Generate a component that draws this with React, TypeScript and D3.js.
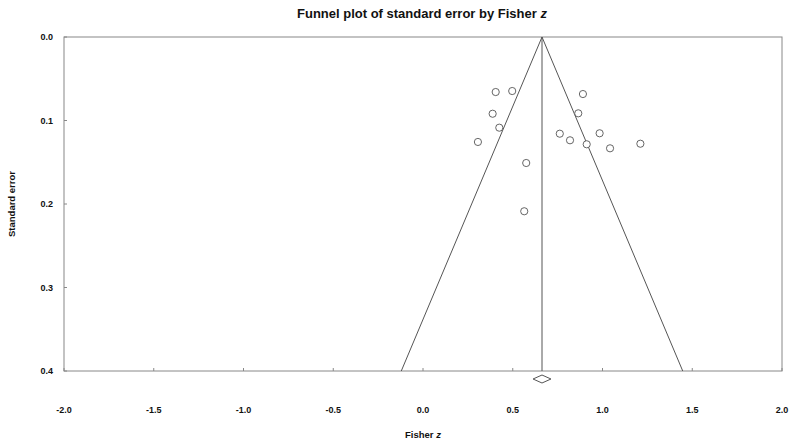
import React from "react";
import * as d3 from "d3";

const fisherZ = [0.405, 0.497, 0.891, 0.388, 0.865, 0.425, 0.306, 0.762, 0.819, 0.984, 0.912, 1.042, 1.211, 0.575, 0.564];
const stdErr = [0.0659, 0.0647, 0.0683, 0.0919, 0.0914, 0.1086, 0.1257, 0.1158, 0.1237, 0.1153, 0.1285, 0.1333, 0.1278, 0.1509, 0.2087];
const meanZ = 0.663;
const meanCI = [0.613, 0.713];
const xTicks = [-2.0, -1.5, -1.0, -0.5, 0.0, 0.5, 1.0, 1.5, 2.0];
const yTicks = [0.0, 0.1, 0.2, 0.3, 0.4];

export default function App() {
  const W = 793, H = 441;
  const L = 64, R = 782, T = 37, B = 371;
  const x = d3.scaleLinear().domain([-2, 2]).range([L, R]);
  const y = d3.scaleLinear().domain([0, 0.4]).range([T, B]);
  const seMax = 0.4;
  const funnel = d3.line<[number, number]>().x(d => x(d[0])).y(d => y(d[1]));
  const leftLine: [number, number][] = [[meanZ, 0], [meanZ - 1.96 * seMax, seMax]];
  const rightLine: [number, number][] = [[meanZ, 0], [meanZ + 1.96 * seMax, seMax]];
  const dy = 379;
  const diamond = `M${x(meanCI[0])},${dy} L${x(meanZ)},${dy - 4} L${x(meanCI[1])},${dy} L${x(meanZ)},${dy + 4} Z`;
  const font = "'Liberation Sans', Arial, sans-serif";
  const lineColor = "#555";
  return (
    <svg width={W} height={H} style={{ position: "absolute", left: 0, top: 0, background: "#fff" }} fontFamily={font}>
      <rect x={0} y={0} width={W} height={H} fill="#fff" />
      <text x={422} y={18} textAnchor="middle" fontSize={13} fontWeight="bold" fill="#111">
        Funnel plot of standard error by Fisher <tspan fontStyle="italic">z</tspan>
      </text>
      <rect x={L} y={T} width={R - L} height={B - T} fill="none" stroke="#888" strokeWidth={1} />
      {yTicks.map(t => (
        <g key={"y" + t}>
          <line x1={L} x2={L + 3} y1={y(t)} y2={y(t)} stroke="#888" />
          <text x={53} y={y(t) + 3} textAnchor="end" fontSize={9} fontWeight="bold" fill="#111">{t.toFixed(1)}</text>
        </g>
      ))}
      {xTicks.map(t => (
        <g key={"x" + t}>
          <line x1={x(t)} x2={x(t)} y1={B} y2={B - 3} stroke="#888" />
          <text x={x(t)} y={413} textAnchor="middle" fontSize={9} fontWeight="bold" fill="#111">{t.toFixed(1)}</text>
        </g>
      ))}
      <path d={funnel(leftLine) || ""} fill="none" stroke={lineColor} strokeWidth={1} />
      <path d={funnel(rightLine) || ""} fill="none" stroke={lineColor} strokeWidth={1} />
      <line x1={x(meanZ)} x2={x(meanZ)} y1={y(0)} y2={y(seMax)} stroke={lineColor} strokeWidth={1} />
      <path d={diamond} fill="#fff" stroke={lineColor} strokeWidth={1} />
      {fisherZ.map((z, i) => (
        <circle key={i} cx={x(z)} cy={y(stdErr[i])} r={3.6} fill="#fff" stroke="#555" strokeWidth={0.9} />
      ))}
      <text x={423} y={438} textAnchor="middle" fontSize={9.5} fontWeight="bold" fill="#111">
        Fisher <tspan fontStyle="italic">z</tspan>
      </text>
      <text transform={`translate(15,204) rotate(-90)`} textAnchor="middle" fontSize={9.5} fontWeight="bold" fill="#111">
        Standard error
      </text>
    </svg>
  );
}
